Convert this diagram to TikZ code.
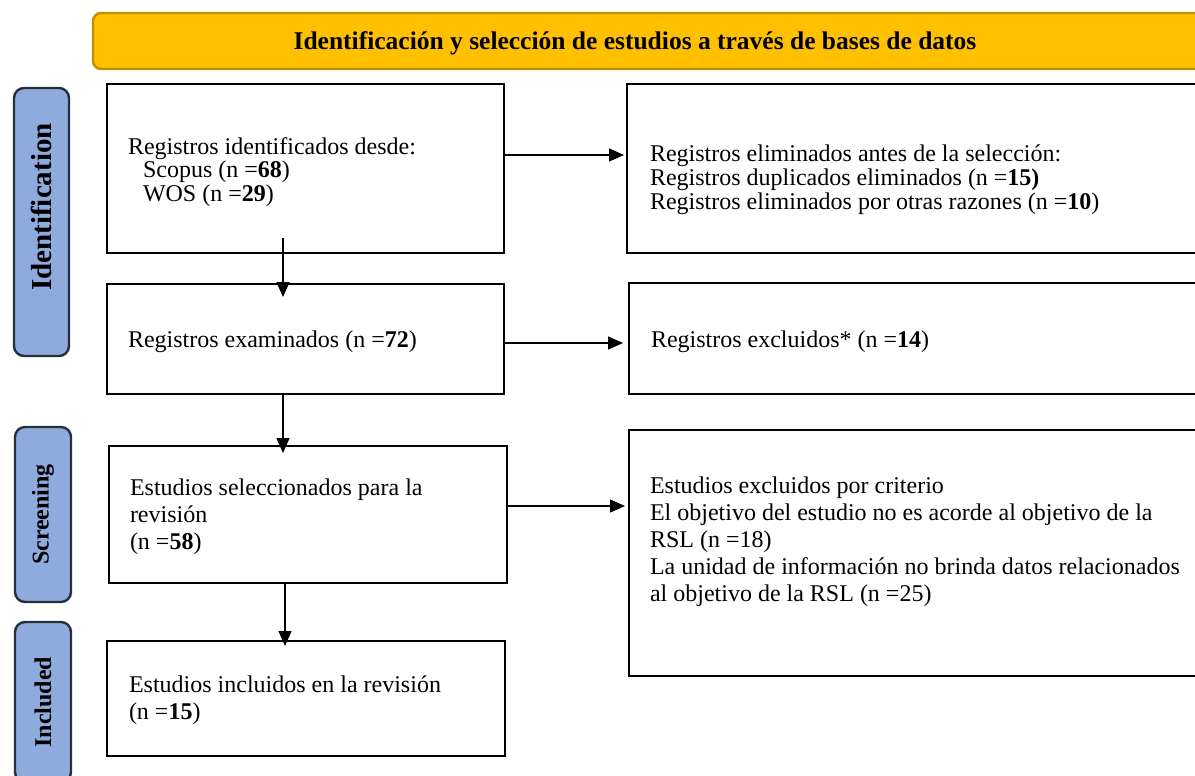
\documentclass[tikz,border=0pt]{standalone}
\usepackage{fontspec}
\setmainfont{Liberation Serif}
\usetikzlibrary{arrows.meta,calc}
\definecolor{banfill}{HTML}{FFC000}
\definecolor{banedge}{HTML}{BF9000}
\definecolor{sidefill}{HTML}{8FAADC}
\definecolor{sideedge}{HTML}{262F3B}
\begin{document}
\begin{tikzpicture}[x=0.5pt,y=-0.5pt,
  box/.style={draw=black, line width=1.2pt, inner sep=0pt, outer sep=0pt, anchor=north west, fill=white},
  sidebox/.style={draw=sideedge, fill=sidefill, line width=1.2pt, rounded corners=5pt, inner sep=0pt, outer sep=0pt, anchor=north west},
  banner/.style={draw=banedge, fill=banfill, line width=1.2pt, rounded corners=4pt, inner sep=0pt, outer sep=0pt, anchor=north west},
  txt/.style={anchor=west, inner sep=0pt, outer sep=0pt, align=left, font=\fontsize{12pt}{13.5pt}\selectfont},
  sidetxt/.style={rotate=90, inner sep=0pt, font=\fontsize{12pt}{13.5pt}\selectfont\bfseries},
  arr/.style={line width=0.6pt, -{Triangle[length=7.5pt,width=6.5pt]}}
]
\useasboundingbox (0,0) rectangle (1195,776);
\clip (0,0) rectangle (1195,776);

% banner
\node[banner, minimum width=568.5pt, minimum height=28pt] (ban) at (93,13) {};
\node[inner sep=0pt, font=\fontsize{12.75pt}{14pt}\selectfont\bfseries] (bantxt) at (635,43) {Identificación y selección de estudios a través de bases de datos};

% side labels
\node[sidebox, minimum width=27.5pt, minimum height=134pt] (sid) at (14,88) {};
\node[sidetxt, font=\fontsize{14.5pt}{16pt}\selectfont\bfseries] (sidt) at ($(sid.center)+(0,-15)$) {Identification};
\node[sidebox, minimum width=28pt, minimum height=87.5pt] (sscr) at (15,427) {};
\node[sidetxt] (sscrt) at (sscr.center) {Screening};
\node[sidebox, minimum width=28pt, minimum height=80pt] (sinc) at (15,622) {};
\node[sidetxt] (sinct) at (sinc.center) {Included};

% boxes
\node[box, minimum width=198.5pt, minimum height=84.5pt] (L1) at (107,84) {};
\node[box, minimum width=296.5pt, minimum height=84.5pt] (R1) at (627,84) {};
\node[box, minimum width=198.5pt, minimum height=55pt] (L2) at (107,284) {};
\node[box, minimum width=295.5pt, minimum height=55.5pt] (R2) at (629,283) {};
\node[box, minimum width=199pt, minimum height=68.5pt] (L3) at (109,446) {};
\node[box, minimum width=295.5pt, minimum height=123pt] (R3) at (629,430) {};
\node[box, minimum width=199pt, minimum height=57.5pt] (L4) at (107,641) {};

% texts
\node[txt, font=\fontsize{12pt}{11.75pt}\selectfont] (L1t) at (128,172) {Registros identificados desde:\\\hspace*{7.5pt}Scopus (n =\textbf{68})\\\hspace*{7.5pt}WOS (n =\textbf{29})};
\node[txt, font=\fontsize{12pt}{12pt}\selectfont] (R1t) at (650,180) {Registros eliminados antes de la selección:\\Registros duplicados eliminados (n =\textbf{15)}\\Registros eliminados por otras razones (n =\textbf{10})};
\node[txt] (L2t) at (128,342) {Registros examinados (n =\textbf{72})};
\node[txt] (R2t) at (651,342) {Registros excluidos* (n =\textbf{14})};
\node[txt] (L3t) at (130,517) {Estudios seleccionados para la\\revisión\\(n =\textbf{58})};
\node[txt] (R3t) at (650,542) {Estudios excluidos por criterio\\El objetivo del estudio no es acorde al objetivo de la\\RSL (n =18)\\La unidad de información no brinda datos relacionados\\al objetivo de la RSL (n =25)};
\node[txt] (L4t) at (129,700) {Estudios incluidos en la revisión\\(n =\textbf{15})};

% arrows
\draw[arr] ($(L1.north east)+(0,71)$) -- ($(R1.north west)+(-3,71)$);
\draw[arr] ($(L1.south west)+(176,-15)$) -- ($(L2.north west)+(176,13)$);
\draw[arr] ($(L2.north east)+(0,59)$) -- ($(R2.north west)+(-6,60)$);
\draw[arr] ($(L2.south west)+(176,0)$) -- ($(L3.north west)+(174,7)$);
\draw[arr] ($(L3.north east)+(0,60)$) -- ($(R3.north west)+(-4,76)$);
\draw[arr] ($(L3.south west)+(176,0)$) -- ($(L4.north west)+(178,5)$);
\end{tikzpicture}
\end{document}
